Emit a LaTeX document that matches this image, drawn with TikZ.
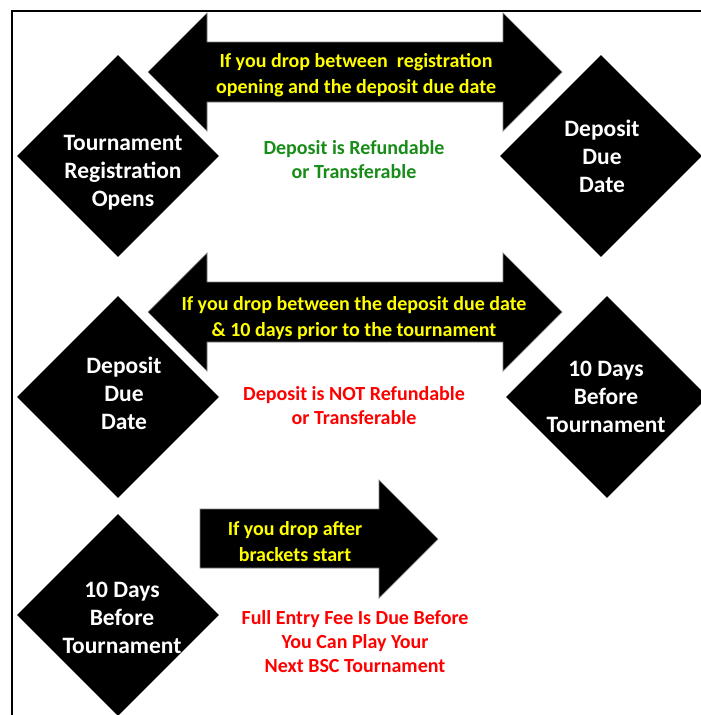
\documentclass[tikz,border=0pt]{standalone}
\usepackage{fontspec}
\setmainfont{Carlito}
\usetikzlibrary{shapes.geometric}

\definecolor{dropyellow}{RGB}{255,255,0}
\definecolor{okgreen}{RGB}{24,140,24}
\definecolor{warnred}{RGB}{255,0,0}

\tikzset{
  milestone/.style={diamond, fill=black, minimum width=202pt, minimum height=202pt, inner sep=0pt},
  milestone text/.style={text=white, align=center, font=\fontsize{23.5}{28}\selectfont\bfseries},
  blockarrow/.style={fill=black, draw=gray, line width=0.7pt},
  droptext/.style={text=dropyellow, align=center, font=\fontsize{20}{26}\selectfont\bfseries},
  feetext/.style={align=center, font=\fontsize{20}{24}\selectfont\bfseries}
}

\begin{document}
\begin{tikzpicture}[x=1pt, y=-1pt]
      \useasboundingbox (0,0) rectangle (701,715);
      \clip (0,0) rectangle (701,715);
      \draw[line width=2pt] (12,716) -- (12,10.5) -- (702,10.5);

      % row 1: registration opens -> deposit due date
      \fill[blockarrow] (148,72) -- (207,13) -- (207,42) -- (503,42) -- (503,13) -- (562,72)
        -- (503,131) -- (503,102) -- (207,102) -- (207,131) -- cycle;
      \node[milestone] (regopen) at (118,156)
        [label={[milestone text, xshift=5pt, yshift=-17pt]center:Tournament\\Registration\\Opens}] {};
      \node[milestone] (duedate1) at (601,156)
        [label={[milestone text, xshift=1pt]center:Deposit\\Due\\Date}] {};
      \node[droptext] (drop1) at (356,75) {If you drop between \ registration\\opening and the deposit due date};
      \node[feetext, text=okgreen] (refund) at (354,160) {Deposit is Refundable\\or Transferable};

      % row 2: deposit due date -> 10 days before
      \fill[blockarrow] (148,312) -- (207,253) -- (207,282) -- (503,282) -- (503,253) -- (562,312)
        -- (503,371) -- (503,342) -- (207,342) -- (207,371) -- cycle;
      \node[milestone] (duedate2) at (118,397)
        [label={[milestone text, xshift=6pt, yshift=4pt]center:Deposit\\Due\\Date}] {};
      \node[milestone] (tendays1) at (607,397)
        [label={[milestone text, xshift=-1pt]center:10 Days\\Before\\Tournament}] {};
      \node[droptext] (drop2) at (354,318) {If you drop between the deposit due date\\\& 10 days prior to the tournament};
      \node[feetext, text=warnred] (norefund) at (354,406) {Deposit is NOT Refundable\\or Transferable};

      % row 3: after brackets start
      \fill[blockarrow] (200,509) -- (379,509) -- (379,480) -- (438,539) -- (379,598)
        -- (379,568) -- (200,568) -- cycle;
      \node[milestone] (tendays2) at (118,615)
        [label={[milestone text, xshift=4pt, yshift=-3pt]center:10 Days\\Before\\Tournament}] {};
      \node[droptext] (drop3) at (295,542) {If you drop after\\brackets start};
      \node[feetext, text=warnred] (fullfee) at (355,642) {Full Entry Fee Is Due Before\\You Can Play Your\\Next BSC Tournament};
    \end{tikzpicture}
\end{document}
